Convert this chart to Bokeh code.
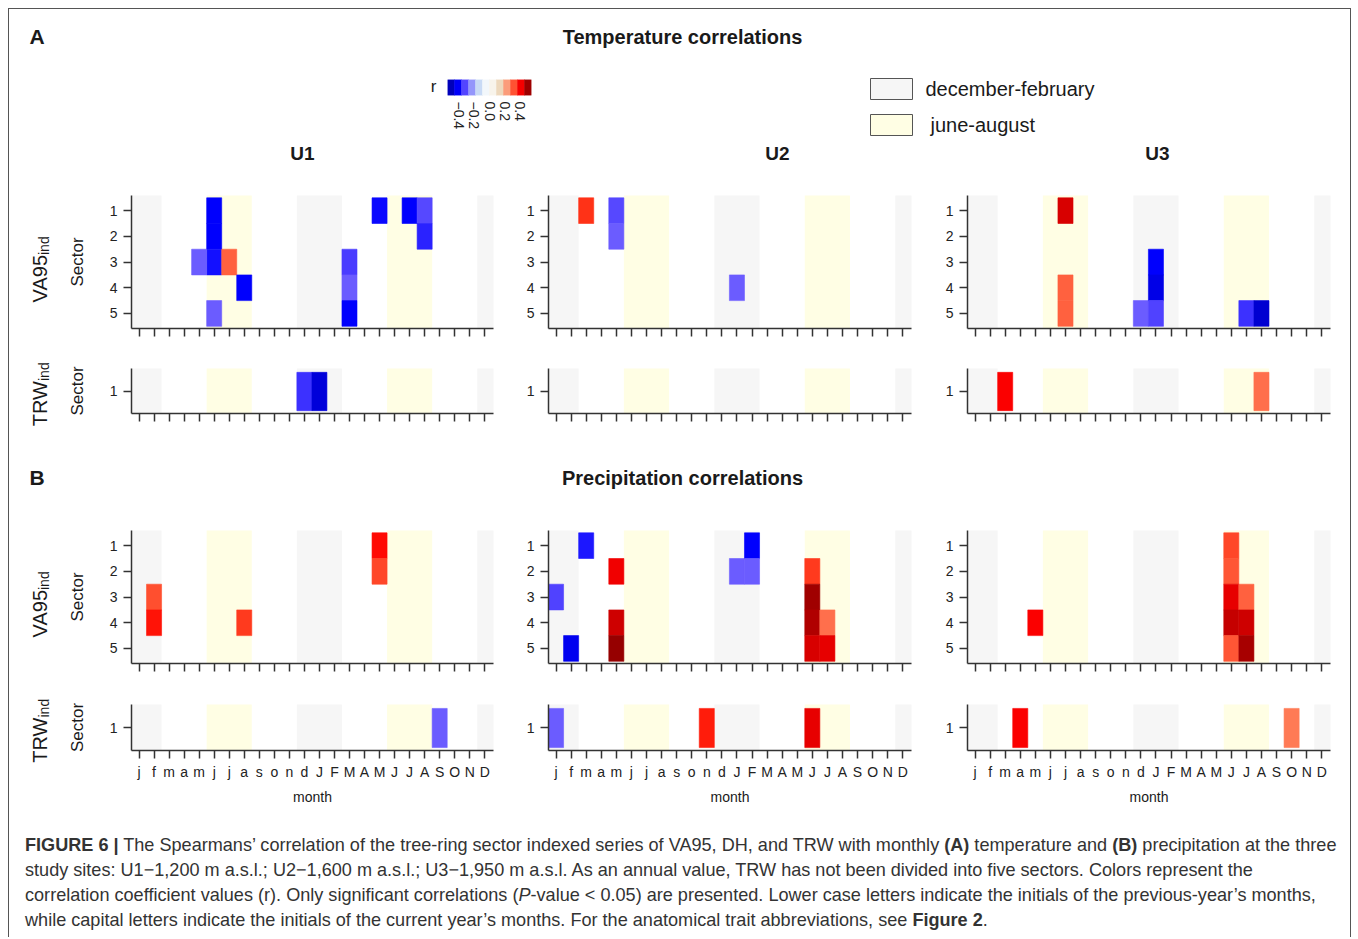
import math
from bokeh.plotting import figure
from bokeh.models import Range1d, FixedTicker, LinearAxis, Div, ColumnDataSource, LinearColorMapper
from bokeh.layouts import column, row
from bokeh.embed import file_html
from bokeh.resources import INLINE
from bokeh.core.properties import value
from bokeh.transform import transform

# ---------------- data ----------------
month_labels = ["j", "f", "m", "a", "m", "j", "j", "a", "s", "o", "n", "d",
                "J", "F", "M", "A", "M", "J", "J", "A", "S", "O", "N", "D"]
month_index = list(range(1, 25))
va_sectors = [1, 2, 3, 4, 5]
trw_sectors = [1]
winter_blocks = [(1, 2), (12, 14), (24, 24)]   # december-february
summer_blocks = [(6, 8), (18, 20)]             # june-august
site_names = ["U1", "U2", "U3"]
cbar_ticks = [-0.4, -0.2, 0.0, 0.2, 0.4]

# (month index, sector, r)
temp_U1_va = [(6, 1, -0.40), (6, 2, -0.40), (6, 3, -0.38), (6, 5, -0.28), (5, 3, -0.28),
              (7, 3, 0.30), (8, 4, -0.40), (15, 3, -0.33), (15, 4, -0.28), (15, 5, -0.40),
              (17, 1, -0.39), (19, 1, -0.40), (20, 1, -0.31), (20, 2, -0.36)]
temp_U1_trw = [(12, 1, -0.34), (13, 1, -0.45)]
temp_U2_va = [(3, 1, 0.35), (5, 1, -0.31), (5, 2, -0.28), (13, 4, -0.28)]
temp_U2_trw = []
temp_U3_va = [(7, 1, 0.43), (7, 4, 0.30), (7, 5, 0.30), (12, 5, -0.28), (13, 3, -0.40),
              (13, 4, -0.43), (13, 5, -0.32), (19, 5, -0.34), (20, 5, -0.46)]
temp_U3_trw = [(3, 1, 0.40), (20, 1, 0.28)]
prec_U1_va = [(2, 3, 0.32), (2, 4, 0.38), (8, 4, 0.34), (17, 1, 0.39), (17, 2, 0.33)]
prec_U1_trw = [(21, 1, -0.28)]
prec_U2_va = [(1, 3, -0.32), (2, 5, -0.42), (3, 1, -0.37), (5, 2, 0.41), (5, 4, 0.44),
              (5, 5, 0.51), (13, 2, -0.28), (14, 1, -0.40), (14, 2, -0.28), (18, 2, 0.34),
              (18, 3, 0.49), (18, 4, 0.47), (18, 5, 0.43), (19, 4, 0.28), (19, 5, 0.42)]
prec_U2_trw = [(1, 1, -0.28), (11, 1, 0.37), (18, 1, 0.42)]
prec_U3_va = [(5, 4, 0.40), (18, 1, 0.33), (18, 2, 0.31), (18, 3, 0.42), (18, 4, 0.45),
              (18, 5, 0.31), (19, 3, 0.30), (19, 4, 0.44), (19, 5, 0.48)]
prec_U3_trw = [(4, 1, 0.40), (22, 1, 0.27)]

# ---------------- styles ----------------
FONT = "Liberation Sans"
GREY = "#f6f6f6"
YELLOW = "#fffee4"
AXC = "#333333"
TXT = "#1a1a1a"

r_stops = [-0.55, -0.47, -0.40, -0.33, -0.27, -0.20, -0.12, -0.04, 0.0, 0.06, 0.13,
           0.20, 0.27, 0.32, 0.36, 0.40, 0.44, 0.48, 0.55]
c_stops = ["#00009a", "#0000cc", "#0000ff", "#4a3cff", "#7464ff", "#a8b4f8", "#d0e4f4",
           "#f4f8fc", "#ffffff", "#f6f0e4", "#ecdcc0", "#f8b090", "#ff7a55", "#ff5030",
           "#ff2a10", "#ff0000", "#d00000", "#a80000", "#800000"]


def hex2rgb(h):
    return tuple(int(h[i:i + 2], 16) for i in (1, 3, 5))


def lerp_color(v):
    if v <= r_stops[0]:
        return c_stops[0]
    for i in range(len(r_stops) - 1):
        if r_stops[i] <= v <= r_stops[i + 1]:
            t = (v - r_stops[i]) / (r_stops[i + 1] - r_stops[i])
            a, b = hex2rgb(c_stops[i]), hex2rgb(c_stops[i + 1])
            return "#%02x%02x%02x" % tuple(round(a[k] + (b[k] - a[k]) * t) for k in range(3))
    return c_stops[-1]


LOW, HIGH = -0.55, 0.55
palette = [lerp_color(LOW + (HIGH - LOW) * i / 255) for i in range(256)]
mapper = LinearColorMapper(palette=palette, low=LOW, high=HIGH)

# geometry (page pixels)
FRAME_W = 363
X_RANGE = (0.5, 24.58)
LABEL_W = 55
col_geo = [(441, 66, 12), (420, 43, 14), (425, 42, 20)]  # width, left border, right border
# height, top border, frame height, bottom border, page top
geo_A_va = (160, 5, 133, 22, 190)
geo_A_trw = (90, 18, 45, 27, 350)
geo_B_va = (165, 10, 133, 22, 520)
geo_B_trw = (130, 19, 46, 65, 685)


def style_axis(ax):
    ax.axis_line_color = AXC
    ax.axis_line_width = 1.5
    ax.major_tick_line_color = AXC
    ax.major_tick_line_width = 1.5
    ax.major_tick_in = 0
    ax.minor_tick_line_color = None
    ax.major_label_text_font = FONT
    ax.major_label_text_font_size = "14px"
    ax.major_label_text_color = "#222222"
    ax.axis_label_text_font = FONT
    ax.axis_label_text_font_style = "normal"
    ax.axis_label_text_color = TXT


def pix_fig(w, h, x0, y0):
    p = figure(width=w, height=h, x_range=Range1d(x0, x0 + w), y_range=Range1d(y0 + h, y0),
               min_border_left=0, min_border_right=0, min_border_top=0, min_border_bottom=0,
               x_axis_type=None, y_axis_type=None, toolbar_location=None,
               output_backend="svg", outline_line_color=None, frame_align=False)
    return p


def put_text(p, x, y, s, size, bold=False, align="center", angle=0.0, baseline="middle"):
    p.text(x=[x], y=[y], text=[s], text_font=value(FONT), text_font_size=size,
           text_font_style="bold" if bold else "normal", text_align=align,
           text_baseline=baseline, text_color=TXT, angle=angle)


def make_panel(cells, kind, col, geo, bottom_row):
    fw, bl, br = col_geo[col]
    h, bt, fh, bb, ptop = geo
    if kind == "va":
        yr = Range1d(5.585, 0.41)
        yticks = va_sectors
    else:
        yr = Range1d(1.575, 0.40)
        yticks = trw_sectors
    p = figure(width=fw, height=h, x_range=Range1d(*X_RANGE), y_range=yr,
               min_border_left=bl, min_border_right=br, min_border_top=bt, min_border_bottom=bb,
               x_axis_type=None, y_axis_type=None, toolbar_location=None,
               output_backend="svg", outline_line_color=None)
    for blocks, colr in ((winter_blocks, GREY), (summer_blocks, YELLOW)):
        src = ColumnDataSource(dict(
            left=[a - 0.5 - (0.5 if a == month_index[0] else 0) for a, b in blocks],
            right=[b + 0.5 + (0.5 if b == month_index[-1] else 0) for a, b in blocks]))
        p.quad(left="left", right="right", bottom=yr.start + 2, top=yr.end - 2,
               source=src, fill_color=colr, line_color=None)
    src = ColumnDataSource(dict(m=[c[0] for c in cells], s=[c[1] for c in cells],
                                r=[c[2] for c in cells]))
    p.rect(x="m", y="s", width=1, height=1, source=src,
           fill_color=transform("r", mapper), line_color=transform("r", mapper), line_width=0.6)

    xa = LinearAxis(ticker=FixedTicker(ticks=month_index))
    style_axis(xa)
    xa.major_tick_out = 8
    xa.major_label_standoff = 5
    xa.major_label_overrides = {i: (month_labels[i - 1] if bottom_row else "") for i in month_index}
    if bottom_row:
        xa.axis_label = "month"
        xa.axis_label_text_font_size = "14px"
        xa.axis_label_standoff = 6
    p.add_layout(xa, "below")

    ya = LinearAxis(ticker=FixedTicker(ticks=yticks))
    style_axis(ya)
    ya.major_tick_out = 8
    ya.major_label_standoff = 6
    if col == 0:
        ya.axis_label = "Sector"
        ya.axis_label_text_font_size = "17px"
        ya.axis_label_standoff = 20
    p.add_layout(ya, "left")
    return p


def make_trait_label(kind, geo, trait):
    h, bt, fh, bb, ptop = geo
    p = pix_fig(LABEL_W, h, 9, ptop)
    junction = ptop + bt + fh / 2 + (-7 if kind == "va" else -10)
    put_text(p, 39, junction, trait, "20px", align="right", angle=math.pi / 2, baseline="alphabetic")
    put_text(p, 43, junction, "ind", "14px", align="left", angle=math.pi / 2, baseline="alphabetic")
    return p


def panel_row(cell_lists, kind, geo, bottom_row, trait):
    figs = [make_trait_label(kind, geo, trait)]
    figs += [make_panel(c, kind, i, geo, bottom_row) for i, c in enumerate(cell_lists)]
    return row(figs, spacing=0)


# ---------------- header A ----------------
hL = pix_fig(431, 181, 9, 9)
put_text(hL, 29, 36, "A", "21px", bold=True, align="left")
put_text(hL, 302, 153, site_names[0], "19px", bold=True)
put_text(hL, 433, 86, "r", "17px")

hC = figure(width=105, height=181, x_range=Range1d(-0.542, 0.542), y_range=Range1d(0, 1),
            min_border_left=7, min_border_right=14, min_border_top=70, min_border_bottom=95,
            x_axis_type=None, y_axis_type=None, toolbar_location=None,
            output_backend="svg", outline_line_color=None, frame_align=False)
n_blocks = 12
bw = 1.084 / n_blocks
cb_src = ColumnDataSource(dict(v=[-0.542 + bw * (i + 0.5) for i in range(n_blocks)]))
hC.rect(x="v", y=0.5, width=bw, height=1, source=cb_src,
        fill_color=transform("v", mapper), line_color=transform("v", mapper), line_width=0.5)
cax = LinearAxis(ticker=FixedTicker(ticks=cbar_ticks), major_label_orientation="vertical")
cax.axis_line_color = None
cax.major_tick_line_color = None
cax.minor_tick_line_color = None
cax.major_tick_out = 0
cax.major_tick_in = 0
cax.major_label_standoff = 6
cax.major_label_text_font = FONT
cax.major_label_text_font_size = "14px"
cax.major_label_text_color = "#222222"
cax.major_label_overrides = {t: ("%.1f" % t).replace("-", "\u2212") for t in cbar_ticks}
hC.add_layout(cax, "below")

hR = pix_fig(805, 181, 545, 9)
put_text(hR, 682, 36, "Temperature correlations", "20px", bold=True)
leg_src = ColumnDataSource(dict(left=[870, 870], right=[912, 912], top=[78, 114],
                                bottom=[99, 135], color=[GREY, YELLOW]))
hR.quad(left="left", right="right", top="top", bottom="bottom", fill_color="color",
        line_color="#555555", line_width=1, source=leg_src)
put_text(hR, 925, 88, "december-february", "20px", align="left")
put_text(hR, 930, 124, "june-august", "20px", align="left")
put_text(hR, 777, 153, site_names[1], "19px", bold=True)
put_text(hR, 1157, 153, site_names[2], "19px", bold=True)

# ---------------- header B ----------------
hB = pix_fig(1341, 80, 9, 440)
put_text(hB, 29, 477, "B", "21px", bold=True, align="left")
put_text(hB, 682, 477, "Precipitation correlations", "20px", bold=True)

# ---------------- panels ----------------
rowA_va = panel_row([temp_U1_va, temp_U2_va, temp_U3_va], "va", geo_A_va, False, "VA95")
rowA_trw = panel_row([temp_U1_trw, temp_U2_trw, temp_U3_trw], "trw", geo_A_trw, False, "TRW")
rowB_va = panel_row([prec_U1_va, prec_U2_va, prec_U3_va], "va", geo_B_va, False, "VA95")
rowB_trw = panel_row([prec_U1_trw, prec_U2_trw, prec_U3_trw], "trw", geo_B_trw, True, "TRW")

caption_html = (
    "<div style=\"font-family:'Liberation Sans',Arial,sans-serif;font-size:18.1px;line-height:25px;"
    "color:#333;padding:18px 0 0 16px;white-space:nowrap;\">"
    "<b>FIGURE 6 |</b> The Spearmans\u2019 correlation of the tree-ring sector indexed series of VA95, DH, "
    "and TRW with monthly <b>(A)</b> temperature and <b>(B)</b> precipitation at the three<br>"
    "study sites: U1\u22121,200 m a.s.l.; U2\u22121,600 m a.s.l.; U3\u22121,950 m a.s.l. As an annual value, "
    "TRW has not been divided into five sectors. Colors represent the<br>"
    "correlation coefficient values (r). Only significant correlations (<i>P</i>-value &lt; 0.05) "
    "are presented. Lower case letters indicate the initials of the previous-year\u2019s months,<br>"
    "while capital letters indicate the initials of the current year\u2019s months. For the anatomical "
    "trait abbreviations, see <b>Figure 2</b>."
    "</div>"
)
caption = Div(text=caption_html, width=1341, height=122, margin=(0, 0, 0, 0))

root = column([row([hL, hC, hR], spacing=0), rowA_va, rowA_trw, hB, rowB_va, rowB_trw, caption],
              spacing=0,
              styles={"margin-left": "8px", "margin-top": "8px",
                      "border-top": "1px solid #555", "border-left": "1px solid #555",
                      "border-right": "1px solid #555"})

open("out.html", "w").write(file_html(root, INLINE))
